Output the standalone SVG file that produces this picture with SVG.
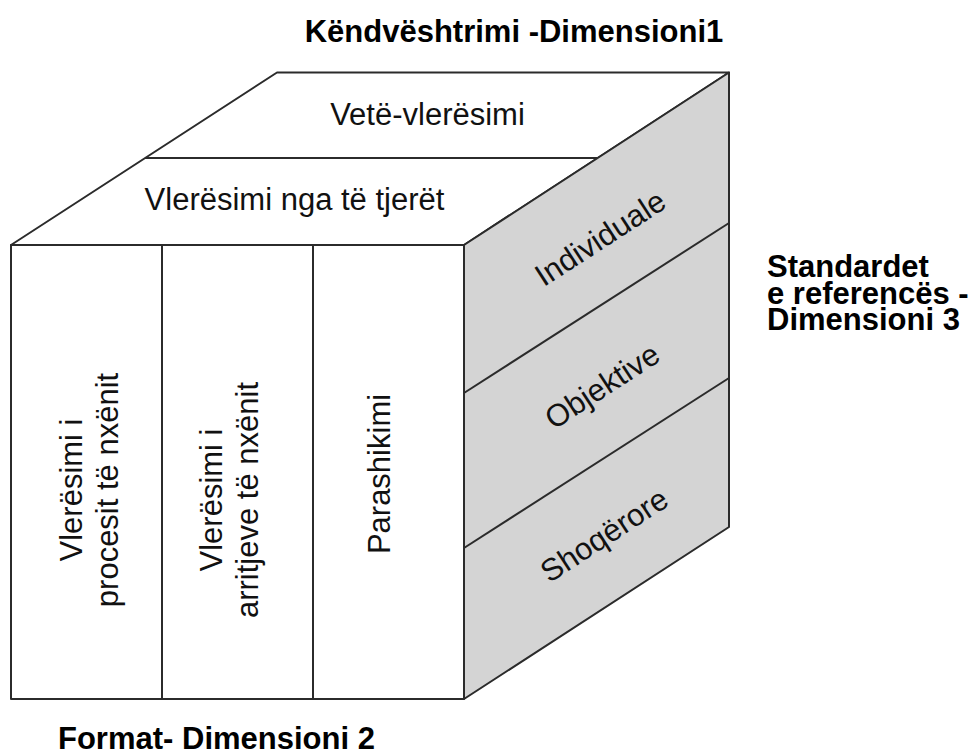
<svg xmlns="http://www.w3.org/2000/svg" width="975" height="756" viewBox="0 0 975 756">
<style>
  .face { fill: #ffffff; stroke: #2b2b2b; stroke-width: 2; stroke-linejoin: round; }
  .side { fill: #d4d4d4; stroke: #2b2b2b; stroke-width: 2; stroke-linejoin: round; }
  .ln { stroke: #2b2b2b; stroke-width: 2; fill: none; }
  .t { font-family: "Liberation Sans", Arial, sans-serif; font-size: 31px; fill: #111; }
  .b { font-family: "Liberation Sans", Arial, sans-serif; font-size: 31px; font-weight: bold; fill: #000; }
</style>
<rect width="975" height="756" fill="#ffffff"/>

<g id="top-face">
  <polygon class="face" points="11,245 277,72.5 729,72.5 464,245"/>
  <line class="ln" x1="145" y1="158" x2="597" y2="158"/>
  <text class="t" x="427.5" y="125" text-anchor="middle">Vetë-vlerësimi</text>
  <text class="t" x="294.5" y="210" text-anchor="middle">Vlerësimi nga të tjerët</text>
</g>

<g id="right-face">
  <polygon class="side" points="464,245 729,72.5 729,527 464,699"/>
  <line class="ln" x1="464" y1="393" x2="729" y2="223"/>
  <line class="ln" x1="464" y1="548" x2="729" y2="378"/>
  <text class="t" transform="translate(606,247) rotate(-33)" text-anchor="middle">Individuale</text>
  <text class="t" transform="translate(608,395) rotate(-33)" text-anchor="middle">Objektive</text>
  <text class="t" transform="translate(610,544) rotate(-33)" text-anchor="middle">Shoqërore</text>
</g>

<g id="front-face">
  <rect class="face" x="11" y="245" width="453" height="454"/>
  <line class="ln" x1="162" y1="245" x2="162" y2="699"/>
  <line class="ln" x1="313" y1="245" x2="313" y2="699"/>
  <text class="t" transform="translate(82,490) rotate(-90)" text-anchor="middle"><tspan x="0" y="0">Vlerësimi i</tspan><tspan x="0" y="36">procesit të nxënit</tspan></text>
  <text class="t" transform="translate(222,500) rotate(-90)" text-anchor="middle"><tspan x="0" y="0">Vlerësimi i</tspan><tspan x="0" y="36">arritjeve të nxënit</tspan></text>
  <text class="t" transform="translate(390,474) rotate(-90)" text-anchor="middle">Parashikimi</text>
</g>

<g id="labels">
  <text class="b" x="514" y="42" text-anchor="middle">Këndvështrimi -Dimensioni1</text>
  <text class="b" x="767" y="277">Standardet</text>
  <text class="b" x="767" y="304">e referencës -</text>
  <text class="b" x="767" y="330">Dimensioni 3</text>
  <text class="b" x="58" y="749">Format- Dimensioni 2</text>
</g>
<g id="connectors"/>
</svg>
